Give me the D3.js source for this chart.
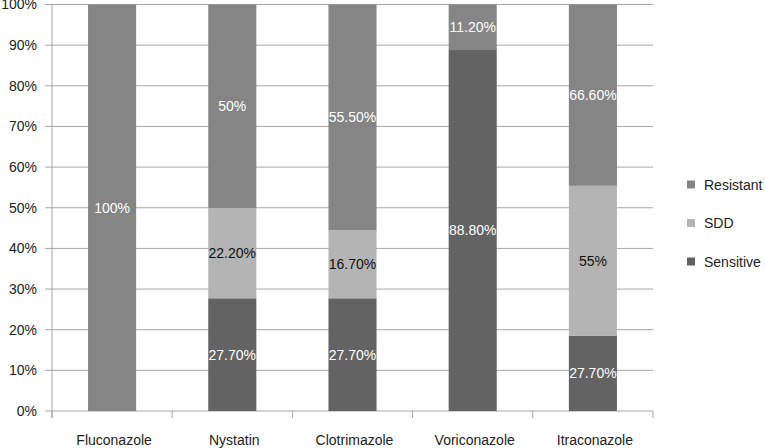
<!DOCTYPE html>
<html><head><meta charset="utf-8">
<script src="https://cdn.jsdelivr.net/npm/d3@7"></script>
<style>body{margin:0;background:#fff}svg{display:block}text{font-family:"Liberation Sans",Arial,Helvetica,sans-serif}</style>
</head><body><svg id="c" width="765" height="448"></svg>
<script>
const categories = ["Fluconazole","Nystatin","Clotrimazole","Voriconazole","Itraconazole"];
const series = ["Sensitive","SDD","Resistant"];
const sensitive = [0, 27.7, 27.7, 88.8, 27.7];
const sdd = [0, 22.2, 16.7, 0, 55];
const resistant = [100, 50, 55.5, 11.2, 66.6];
const labelsSensitive = ["", "27.70%", "27.70%", "88.80%", "27.70%"];
const labelsSDD = ["", "22.20%", "16.70%", "", "55%"];
const labelsResistant = ["100%", "50%", "55.50%", "11.20%", "66.60%"];
const yTicks = [0,10,20,30,40,50,60,70,80,90,100];

const colors = {Sensitive:"#636363", SDD:"#b4b4b4", Resistant:"#858585"};
const textColors = {Sensitive:"#ffffff", SDD:"#111111", Resistant:"#ffffff"};

const rows = categories.map((c,i)=>({cat:c, Sensitive:sensitive[i], SDD:sdd[i], Resistant:resistant[i],
  lab:{Sensitive:labelsSensitive[i], SDD:labelsSDD[i], Resistant:labelsResistant[i]}}));

const svg = d3.select("#c");
const L=52, R=653, T=4.5, B=411;
const FS = 14;
const x = d3.scaleBand().domain(categories).range([L,R]).paddingInner(0.6).paddingOuter(0.3);
const y = d3.scaleLinear().domain([0,100]).range([B,T]);

svg.append("g").selectAll("line").data(yTicks).join("line")
  .attr("x1",L-7).attr("x2",R).attr("y1",d=>y(d)).attr("y2",d=>y(d))
  .attr("stroke","#a6a6a6").attr("stroke-width",1);
svg.append("line").attr("x1",L).attr("x2",L).attr("y1",T).attr("y2",B+7).attr("stroke","#a6a6a6");
svg.append("g").selectAll("text").data(yTicks).join("text")
  .attr("x",37).attr("y",d=>y(d)).attr("dy","0.35em").attr("text-anchor","end")
  .attr("font-size",FS).attr("fill","#222").text(d=>d+"%");
const bounds = d3.range(categories.length+1).map(i=>L+i*(R-L)/categories.length);
svg.append("g").selectAll("line").data(bounds).join("line")
  .attr("x1",d=>d).attr("x2",d=>d).attr("y1",B).attr("y2",B+7).attr("stroke","#a6a6a6");
svg.append("g").selectAll("text").data(categories).join("text")
  .attr("x",d=>x(d)+x.bandwidth()/2+2).attr("y",445).attr("text-anchor","middle")
  .attr("font-size",FS).attr("fill","#222").text(d=>d);

const stack = d3.stack().keys(series).offset(d3.stackOffsetExpand);
const stacked = stack(rows);
const g = svg.append("g");
stacked.forEach(s=>{
  const k = s.key;
  g.append("g").selectAll("rect").data(s).join("rect")
    .attr("x",d=>x(d.data.cat)).attr("width",x.bandwidth())
    .attr("y",d=>y(d[1]*100)).attr("height",d=>y(d[0]*100)-y(d[1]*100))
    .attr("fill",colors[k]);
});
stacked.forEach(s=>{
  const k = s.key;
  g.append("g").selectAll("text").data(s.filter(d=>d.data.lab[k]!=="")).join("text")
    .attr("x",d=>x(d.data.cat)+x.bandwidth()/2)
    .attr("y",d=>y((d[0]+d[1])/2*100)).attr("dy","0.35em")
    .attr("text-anchor","middle").attr("font-size",FS).attr("fill",textColors[k])
    .text(d=>d.data.lab[k]);
});

const leg = ["Resistant","SDD","Sensitive"];
const lg = svg.append("g").selectAll("g").data(leg).join("g")
  .attr("transform",(d,i)=>`translate(687,${185+i*38.5})`);
lg.append("rect").attr("x",0).attr("y",-4.5).attr("width",8).attr("height",8).attr("fill",d=>colors[d]);
lg.append("text").attr("x",17).attr("y",0).attr("dy","0.35em").attr("font-size",FS).attr("fill","#222").text(d=>d);
</script></body></html>
